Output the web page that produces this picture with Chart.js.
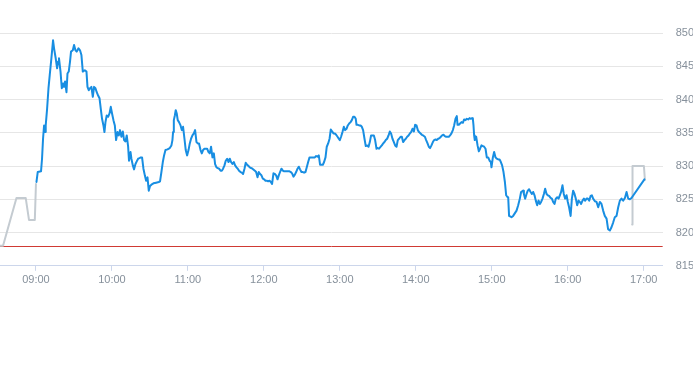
<!DOCTYPE html>
<html><head><meta charset="utf-8">
<script src="https://cdn.jsdelivr.net/npm/chart.js@4"></script>
<style>
html,body{margin:0;padding:0;background:#fff;overflow:hidden;}
#wrap{position:relative;width:707px;height:365px;}
</style></head><body>
<div id="wrap"><canvas id="c"></canvas></div>
<script>
// x values: minutes after 09:00
const tickMinutes = [0, 60, 120, 180, 240, 300, 360, 420, 480];
const tickLabels = ['09:00', '10:00', '11:00', '12:00', '13:00', '14:00', '15:00', '16:00', '17:00'];
const yTicks = [815, 820, 825, 830, 835, 840, 845, 850];
const prevClose = 817.9;

const preTimes = [-29.0, -26.0, -15.4, -8.1, -5.5, -0.9, 0.0];
const preValues = [818.0, 818.0, 825.2, 825.2, 821.9, 821.9, 827.3];

const postTimes = [470.9, 471.2, 480.2, 481.0];
const postValues = [821.2, 830.0, 830.0, 827.9];

const blueTimes = [
0.4,1.4,4.0,4.8,5.6,6.4,7.2,7.7,8.8,9.9,
10.9,12.2,13.5,14.3,15.6,16.7,17.5,18.2,19.4,20.4,
21.4,22.2,23.0,24.1,24.9,25.9,26.9,27.7,29.1,30.1,
31.2,32.2,33.6,34.8,35.9,37.0,38.6,39.9,40.7,41.7,
42.7,43.8,44.9,45.9,47.0,48.0,49.1,50.2,51.2,52.2,
53.3,54.1,54.9,55.9,57.0,58.1,59.1,60.1,61.2,62.3,
63.3,64.4,65.4,66.4,67.5,68.6,69.6,70.7,71.7,72.8,
73.5,74.7,75.4,76.5,77.5,78.6,79.6,80.7,81.8,82.8,
83.8,84.9,86.0,87.0,88.1,89.1,90.1,91.2,92.8,94.9,
97.0,98.0,99.1,100.2,101.2,102.3,103.9,105.7,107.0,107.8,
108.3,108.9,109.7,110.4,111.2,112.0,113.0,114.2,115.2,116.2,
117.3,118.3,119.4,120.5,121.5,122.5,123.6,124.7,125.7,126.8,
127.8,128.8,130.0,131.0,132.0,133.1,134.1,135.2,136.3,137.3,
138.3,139.4,140.5,141.5,142.6,143.6,144.6,145.8,146.8,147.8,
148.9,149.9,151.0,152.1,153.1,154.1,155.2,156.3,157.3,158.4,
159.4,160.4,161.6,162.6,163.6,164.7,165.7,166.8,167.9,168.9,
169.9,171.0,172.9,173.9,175.0,176.0,177.0,178.1,179.2,180.2,
181.3,182.3,183.4,184.5,185.5,186.5,187.6,188.7,189.7,190.8,
191.8,192.8,193.9,195.0,196.0,197.1,198.1,199.2,200.3,201.3,
202.3,203.4,204.5,205.5,206.6,207.6,208.6,209.7,210.8,211.8,
212.9,213.9,215.0,216.1,217.1,218.1,219.2,220.3,221.3,222.4,
223.4,224.4,225.5,226.6,227.6,228.7,229.7,230.8,231.9,232.9,
233.9,235.0,236.1,237.1,238.2,239.2,240.0,241.0,242.1,243.2,
244.2,245.3,246.3,247.4,248.5,249.5,250.5,251.6,252.6,253.2,
254.2,255.3,256.4,257.4,258.4,259.5,260.5,261.6,262.7,263.7,
264.7,265.8,266.9,267.9,269.0,270.0,271.0,272.2,273.2,274.2,
275.3,276.3,277.4,278.5,279.5,280.5,281.6,282.7,283.7,284.8,
285.8,286.8,288.0,289.0,290.0,291.1,292.1,293.2,294.3,295.3,
296.3,297.4,298.5,299.5,300.6,301.6,302.6,303.8,304.8,305.8,
307.2,308.2,309.3,310.3,311.3,312.4,313.5,314.5,315.6,316.6,
317.7,318.8,319.8,320.8,321.9,322.9,324.0,325.1,326.1,327.1,
328.2,329.3,330.3,331.4,332.4,333.0,334.0,335.0,336.1,337.2,
338.2,339.3,340.3,341.4,342.5,343.5,344.5,345.1,345.6,346.1,
346.6,347.7,348.8,349.8,350.8,351.9,353.0,354.0,355.1,356.1,
357.2,358.3,359.3,359.8,360.9,361.9,363.0,364.0,365.1,366.2,
367.2,368.2,369.3,370.4,371.4,372.5,373.0,373.7,375.6,376.9,
379.6,380.9,382.2,383.2,384.8,385.4,386.4,387.5,388.5,389.5,
390.7,391.7,392.7,393.8,394.8,395.9,397.0,398.0,399.0,400.1,
401.2,402.2,403.3,404.3,405.3,406.5,407.5,408.5,409.6,410.6,
411.7,412.8,413.8,414.8,415.9,416.9,418.0,419.1,420.1,421.1,
422.3,423.3,424.3,425.4,426.4,427.5,428.6,429.6,430.6,431.7,
432.8,433.8,434.9,435.9,437.0,438.1,439.1,440.1,441.5,442.8,
444.1,445.4,446.7,448.0,449.3,450.7,451.9,453.3,454.6,455.9,
457.2,458.6,459.9,461.2,462.5,463.8,465.2,466.5,467.8,469.1,
470.4,480.6
];
const blueValues = [
827.6,829.1,829.2,831.1,834.1,836.1,835.1,836.1,838.6,841.7,
843.7,846.2,848.9,847.7,846.2,844.7,845.7,846.2,844.2,841.7,
842.4,841.9,842.7,841.1,843.9,844.2,845.7,847.2,847.4,848.2,
847.4,847.2,847.7,847.4,846.7,844.2,844.4,844.2,841.9,841.4,
841.7,841.9,840.4,841.9,841.7,841.1,840.6,840.2,838.6,837.1,
836.1,835.1,836.6,837.6,837.4,837.9,838.9,837.9,836.9,836.1,
833.9,835.1,834.6,835.4,834.4,835.2,833.9,833.7,834.6,832.9,
830.8,832.1,831.1,830.1,829.5,830.3,830.7,831.1,831.2,831.3,
831.3,829.6,828.6,827.8,828.3,826.3,827.0,827.2,827.4,827.5,
827.6,827.7,829.1,830.6,831.6,832.4,832.5,832.7,833.1,833.9,
835.1,836.9,837.6,838.4,837.9,836.9,836.6,836.1,835.4,835.9,
834.1,832.4,831.6,832.4,833.4,834.1,834.6,834.9,835.4,833.6,
833.4,833.4,832.4,831.9,832.4,832.6,832.6,832.6,832.1,831.9,
832.9,831.3,831.9,830.3,829.8,829.7,829.6,829.3,829.3,829.6,
830.1,830.8,831.1,830.6,831.1,830.6,830.3,830.6,830.1,829.8,
829.6,829.3,829.1,829.0,828.8,829.6,830.5,830.2,830.0,829.8,
829.7,829.6,829.3,829.1,828.3,829.1,828.8,828.6,828.1,828.0,
827.8,827.8,827.7,827.8,827.6,827.3,828.9,828.8,828.6,828.0,
828.6,829.1,829.6,829.3,829.2,829.2,829.2,829.2,829.2,829.1,
828.9,828.4,828.7,829.1,829.6,829.9,829.5,829.1,829.1,829.0,
829.1,829.8,830.6,831.3,831.3,831.3,831.3,831.3,831.5,831.4,
831.6,830.2,830.2,830.2,830.6,831.3,832.9,833.4,834.1,835.5,
835.2,834.9,834.9,834.7,834.4,834.1,833.9,834.4,835.1,835.9,
835.4,835.6,836.1,836.4,836.6,836.9,837.4,837.4,837.1,836.2,
836.2,836.1,836.1,835.9,835.4,834.1,833.0,833.1,832.9,833.6,
834.6,834.6,834.6,833.9,832.6,832.7,832.6,832.9,833.1,833.4,
833.6,833.9,834.1,834.6,835.2,834.9,834.1,833.6,833.1,832.9,
833.9,834.1,834.4,834.4,833.6,833.9,834.1,834.4,834.6,834.9,
835.1,835.6,835.2,836.2,836.1,835.4,835.1,834.9,834.7,834.6,
834.4,833.9,833.4,832.9,832.7,833.1,833.6,833.9,834.0,833.9,
834.1,834.2,834.4,834.6,834.7,834.5,834.4,834.4,834.4,834.6,
834.9,835.4,836.1,837.1,837.5,836.2,836.2,836.4,836.6,836.5,
837.0,836.9,837.1,837.0,837.2,837.1,837.2,837.1,836.1,834.6,
833.9,834.4,833.1,832.2,832.6,833.1,833.0,832.9,832.6,831.3,
831.3,830.8,830.6,829.8,831.3,832.1,831.3,831.1,831.0,831.0,
830.6,830.1,829.1,827.6,825.6,825.3,825.3,822.5,822.3,822.5,
823.3,824.1,825.1,826.1,826.3,825.8,825.1,825.8,826.3,826.5,
826.1,825.8,826.1,825.6,824.8,824.1,824.8,824.3,824.6,825.1,
825.8,826.6,825.8,825.6,825.5,825.2,825.1,824.6,824.3,825.1,
825.3,825.1,825.6,826.1,827.1,825.8,825.1,825.6,824.6,823.8,
822.5,825.1,826.3,825.8,825.1,824.1,824.8,824.6,824.3,824.8,
825.1,824.8,825.1,825.1,824.8,825.5,825.6,825.1,824.7,824.6,
823.8,824.6,824.3,823.3,822.5,822.1,820.5,820.3,820.8,821.5,
822.3,822.5,823.8,824.8,825.1,824.8,825.2,826.1,825.1,825.0,
825.2,828.0
];

const pts = (ts, vs) => ts.map((t, i) => ({ x: t, y: vs[i] }));
const X_MIN = -28.4, X_MAX = 495;
const labelFont = { family: "'Liberation Sans', Arial, sans-serif", size: 11 };
const labelColor = '#86909b';

new Chart(document.getElementById('c'), {
  type: 'line',
  data: {
    datasets: [
      { data: pts(blueTimes, blueValues), borderColor: '#188ee2', borderWidth: 2 },
      { data: pts(preTimes, preValues), borderColor: '#c4cbd1', borderWidth: 2 },
      { data: pts(postTimes, postValues), borderColor: '#c4cbd1', borderWidth: 2 },
      { data: [{ x: X_MIN - 5, y: prevClose }, { x: X_MAX + 5, y: prevClose }], borderColor: '#d03a34', borderWidth: 1 }
    ]
  },
  options: {
    responsive: true,
    maintainAspectRatio: false,
    devicePixelRatio: 1,
    animation: false,
    elements: { point: { radius: 0, hoverRadius: 0 }, line: { tension: 0, borderJoinStyle: 'round', borderCapStyle: 'round' } },
    layout: { padding: { top: 33, bottom: 75, left: 0, right: 0 } },
    plugins: { legend: { display: false }, tooltip: { enabled: false } },
    scales: {
      x: {
        type: 'linear',
        min: X_MIN,
        max: X_MAX,
        afterBuildTicks: s => { s.ticks = tickMinutes.map(v => ({ value: v })); },
        ticks: {
          autoSkip: false, maxRotation: 0, padding: 3,
          color: labelColor, font: labelFont,
          callback: v => tickLabels[tickMinutes.indexOf(v)]
        },
        grid: { drawOnChartArea: false, drawTicks: true, tickLength: 5, color: '#ccd6eb' },
        border: { display: true, color: '#ccd6eb', width: 1 }
      },
      y: {
        position: 'right',
        min: 815,
        max: 850,
        afterBuildTicks: s => { s.ticks = yTicks.map(v => ({ value: v })); },
        ticks: { padding: 13, color: labelColor, font: labelFont },
        grid: { color: '#e6e6e6', drawTicks: false },
        border: { display: false }
      }
    }
  }
});
</script>
</body></html>
